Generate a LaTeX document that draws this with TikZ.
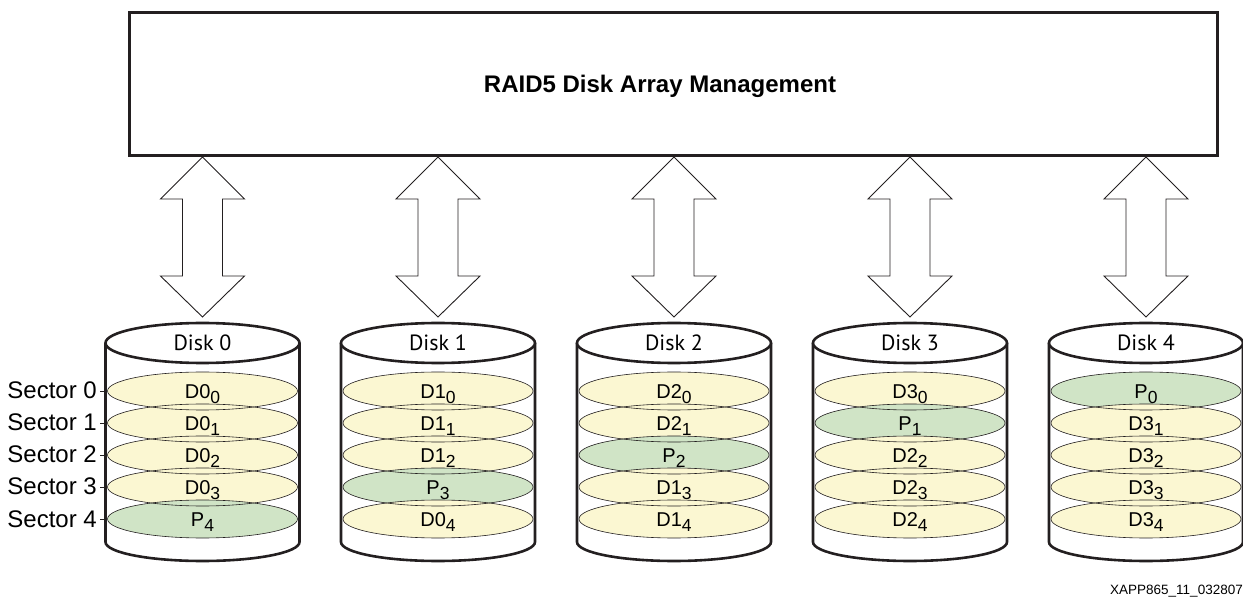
\documentclass[tikz,border=0pt]{standalone}
\usepackage{fontspec}
\setmainfont{Liberation Sans}
\newfontfamily\diskfont{PT Sans}
\definecolor{dataY}{HTML}{FBF7D2}
\definecolor{parG}{HTML}{D0E4C6}
\definecolor{lineK}{HTML}{231F20}
\newcommand\slab[2]{#1\raisebox{-5.5pt}{\fontsize{17.5}{17.5}\selectfont #2}}
\tikzset{
  cylline/.style={draw=lineK, line width=2.6pt},
  secline/.style={draw=lineK, line width=0.6pt},
  blockarrow/.style={draw=lineK, line width=0.9pt, fill=white, line join=miter},
  seclabel/.style={font=\fontsize{20}{20}\selectfont, inner sep=0pt, anchor=base},
  disklabel/.style={font=\diskfont\fontsize{22}{22}\selectfont, inner sep=0pt, anchor=base},
  sidelabel/.style={font=\fontsize{24}{24}\selectfont, inner sep=0pt, anchor=base east},
}
\newcommand\drawdisk[3]{%
  % #1 centre x, #2 disk number, #3 list of main/sub/colour
  \foreach \m/\s/\col [count=\k from 0] in {#3} {
    \pgfmathsetmacro\yy{391+32*\k}
    \fill[\col] (#1,\yy) ellipse [x radius=95pt, y radius=19pt];
  }
  \foreach \m/\s/\col [count=\k from 0] in {#3} {
    \pgfmathsetmacro\yy{391+32*\k}
    \draw[secline] (#1,\yy) ellipse [x radius=95pt, y radius=19pt];
    \node[seclabel] (d#2s\k) at (#1,\yy+7.5) {\slab{\m}{\s}};
  }
  \draw[cylline] (#1-97,343) -- (#1-97,542)
    arc[start angle=180, end angle=360, x radius=97pt, y radius=19pt]
    -- (#1+97,343);
  \draw[cylline, fill=white] (#1,343) ellipse [x radius=97pt, y radius=20pt];
  \node[disklabel] (disk#2) at (#1,351) {Disk #2};
}
\begin{document}
\begin{tikzpicture}[x=1pt,y=-1pt]
\useasboundingbox (0,0) rectangle (1243,601);

% management box
\node[draw=lineK, line width=2.6pt, minimum width=1088pt, minimum height=143pt,
      inner sep=0pt, anchor=north west] (box) at (128,11) {};
\node[font=\bfseries\fontsize{24}{24}\selectfont, anchor=base, inner sep=0pt]
      (title) at (660,93) {RAID5 Disk Array Management};

% double block arrows
\foreach \x in {202.5,438,674,910,1146} {
  \draw[blockarrow] (\x,157) -- (\x+42,199) -- (\x+20,199) -- (\x+20,276)
    -- (\x+42,276) -- (\x,317) -- (\x-42,276) -- (\x-20,276) -- (\x-20,199)
    -- (\x-42,199) -- cycle;
}

% disks
\drawdisk{202.5}{0}{D0/0/dataY,D0/1/dataY,D0/2/dataY,D0/3/dataY,P/4/parG}
\drawdisk{438}{1}{D1/0/dataY,D1/1/dataY,D1/2/dataY,P/3/parG,D0/4/dataY}
\drawdisk{674}{2}{D2/0/dataY,D2/1/dataY,P/2/parG,D1/3/dataY,D1/4/dataY}
\drawdisk{910}{3}{D3/0/dataY,P/1/parG,D2/2/dataY,D2/3/dataY,D2/4/dataY}
\drawdisk{1146}{4}{P/0/parG,D3/1/dataY,D3/2/dataY,D3/3/dataY,D3/4/dataY}

% sector labels with ticks
\foreach \k in {0,...,4} {
  \pgfmathsetmacro\yy{391+32*\k}
  \node[sidelabel] (sec\k) at (97,\yy+8) {Sector \k};
  \draw[lineK, line width=0.8pt] (sec\k.east |- 0,\yy) ++(3,0) -- ++(6,0);
}

% figure id
\node[font=\fontsize{13.5}{13.5}\selectfont, anchor=base east, inner sep=0pt]
      (figid) at (1243,594) {XAPP865\_11\_032807};
\end{tikzpicture}
\end{document}
